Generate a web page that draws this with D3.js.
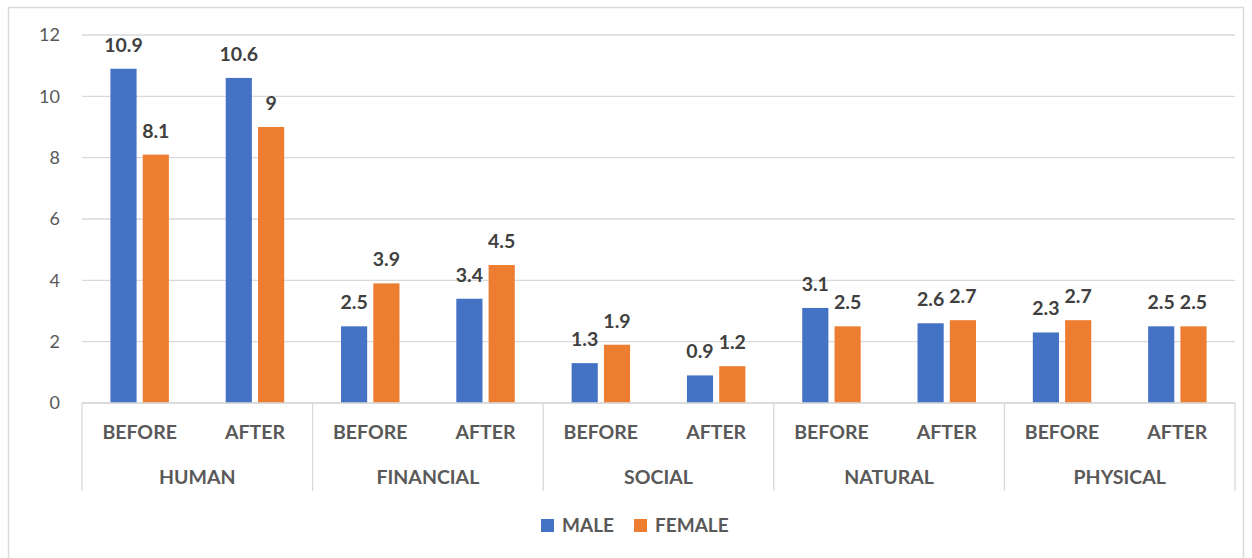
<!DOCTYPE html>
<html><head><meta charset="utf-8">
<script src="https://cdn.jsdelivr.net/npm/d3@7"></script>
<style>body{margin:0;background:#fff;} svg{display:block;font-family:Lato, "Open Sans", sans-serif;}</style>
</head><body><svg id="c" width="1252" height="558"></svg>
<script>
const groups = ["HUMAN","FINANCIAL","SOCIAL","NATURAL","PHYSICAL"];
const phases = ["BEFORE","AFTER"];
const series = ["MALE","FEMALE"];
const maleValues = [10.9,10.6,2.5,3.4,1.3,0.9,3.1,2.6,2.3,2.5];
const femaleValues = [8.1,9,3.9,4.5,1.9,1.2,2.5,2.7,2.7,2.5];
const yTicks = [0,2,4,6,8,10,12];
const colors = ["#4472C4","#ED7D31"];

(function(){
const svg = d3.select("#c");
const pLeft = 82, pRight = 1235, pTop = 35, pBottom = 403;
svg.append("rect").attr("x",8.5).attr("y",7.5).attr("width",1235).attr("height",560).attr("fill","#fff").attr("stroke","#d9d9d9").attr("stroke-width",1.5);

const cats = [];
groups.forEach(g=>phases.forEach(p=>cats.push(g+"|"+p)));
const x = d3.scaleBand().domain(cats).range([pLeft,pRight]);
const y = d3.scaleLinear().domain([0,12]).range([pBottom,pTop]);
const inner = d3.scaleBand().domain(series).range([0,x.bandwidth()]).paddingInner(0.19).paddingOuter(0.88);

svg.append("g").selectAll("line").data(yTicks).join("line")
  .attr("x1",pLeft).attr("x2",pRight).attr("y1",d=>y(d)).attr("y2",d=>y(d))
  .attr("stroke","#d9d9d9").attr("stroke-width",1.3);
svg.append("g").selectAll("text").data(yTicks).join("text")
  .attr("x",60).attr("y",d=>y(d)).attr("dy","0.35em").attr("text-anchor","end")
  .attr("fill","#595959").attr("font-size",18).text(d=>d);

const data = cats.map((c,i)=>({c, vals:[maleValues[i],femaleValues[i]]}));
const gb = svg.append("g").selectAll("g").data(data).join("g").attr("transform",d=>`translate(${x(d.c)},0)`);
gb.selectAll("rect").data(d=>d.vals.map((v,j)=>({v,s:series[j],j}))).join("rect")
  .attr("x",d=>inner(d.s)).attr("width",inner.bandwidth())
  .attr("y",d=>y(d.v)).attr("height",d=>y(0)-y(d.v)).attr("fill",d=>colors[d.j]);
gb.selectAll("text").data(d=>d.vals.map((v,j)=>({v,s:series[j],j}))).join("text")
  .attr("x",d=>inner(d.s)+inner.bandwidth()/2).attr("y",d=>y(d.v)-17)
  .attr("text-anchor","middle").attr("font-weight","bold").attr("font-size",19.5).attr("fill","#404040")
  .text(d=>d.v);

const ax = svg.append("g");
ax.append("line").attr("x1",pLeft).attr("x2",pRight).attr("y1",pBottom).attr("y2",pBottom).attr("stroke","#d9d9d9").attr("stroke-width",1.3);
const gw = (pRight-pLeft)/groups.length;
d3.range(groups.length+1).forEach(i=>{
  ax.append("line").attr("x1",pLeft+i*gw).attr("x2",pLeft+i*gw).attr("y1",pBottom).attr("y2",491).attr("stroke","#d9d9d9").attr("stroke-width",1.3);
});
ax.selectAll("text.sub").data(cats).join("text").attr("class","sub")
  .attr("x",d=>x(d)+x.bandwidth()/2).attr("y",432).attr("dy","0.35em").attr("text-anchor","middle")
  .attr("font-weight","bold").attr("font-size",19.5).attr("fill","#595959").text(d=>d.split("|")[1]);
ax.selectAll("text.grp").data(groups).join("text").attr("class","grp")
  .attr("x",(d,i)=>pLeft+gw*(i+0.5)).attr("y",477).attr("dy","0.35em").attr("text-anchor","middle")
  .attr("font-weight","bold").attr("font-size",19.5).attr("fill","#595959").text(d=>d);

const lg = svg.append("g");
const lx = [541,634];
series.forEach((s,i)=>{
  lg.append("rect").attr("x",lx[i]).attr("y",519).attr("width",13).attr("height",13).attr("fill",colors[i]);
  lg.append("text").attr("x",lx[i]+21).attr("y",525.5).attr("dy","0.35em").attr("font-weight","bold").attr("font-size",19).attr("fill","#595959").text(s);
});
})();
</script></body></html>
